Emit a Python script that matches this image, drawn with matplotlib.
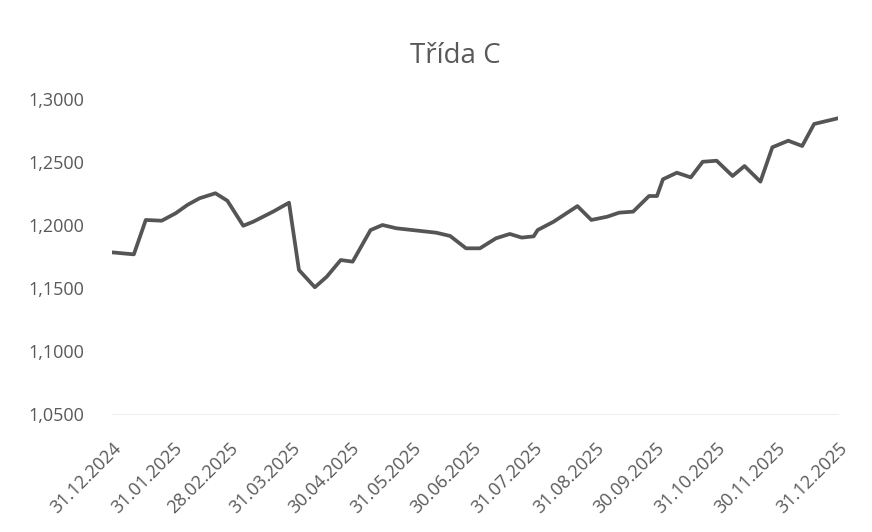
import pandas as pd
import matplotlib
matplotlib.use("Agg")
from matplotlib import pyplot as plt
import matplotlib.dates as mdates
from matplotlib.ticker import FuncFormatter

# Values (date, value)
dates = ["2024-12-31", "2025-01-11", "2025-01-17", "2025-01-25", "2025-02-01",
         "2025-02-07", "2025-02-13", "2025-02-21", "2025-02-27", "2025-03-07",
         "2025-03-12", "2025-03-22", "2025-03-30", "2025-04-04", "2025-04-12",
         "2025-04-18", "2025-04-25", "2025-05-01", "2025-05-10", "2025-05-16",
         "2025-05-23", "2025-05-31", "2025-06-12", "2025-06-19", "2025-06-27",
         "2025-07-04", "2025-07-12", "2025-07-19", "2025-07-25", "2025-07-31",
         "2025-08-02", "2025-08-10", "2025-08-22", "2025-08-29", "2025-09-06",
         "2025-09-12", "2025-09-19", "2025-09-27", "2025-10-01", "2025-10-04",
         "2025-10-11", "2025-10-18", "2025-10-24", "2025-10-31", "2025-11-08",
         "2025-11-14", "2025-11-22", "2025-11-28", "2025-12-06", "2025-12-13",
         "2025-12-19", "2025-12-31"]
values = [1.1783, 1.1767, 1.2040, 1.2034, 1.2093,
          1.2160, 1.2212, 1.2252, 1.2193, 1.1994,
          1.2026, 1.2106, 1.2177, 1.1643, 1.1506,
          1.1590, 1.1722, 1.1709, 1.1960, 1.2000,
          1.1974, 1.1960, 1.1939, 1.1913, 1.1815,
          1.1815, 1.1894, 1.1929, 1.1900, 1.1910,
          1.1960, 1.2026, 1.2150, 1.2040, 1.2066,
          1.2098, 1.2106, 1.2230, 1.2230, 1.2363,
          1.2415, 1.2378, 1.2502, 1.2510, 1.2389,
          1.2468, 1.2344, 1.2617, 1.2669, 1.2627,
          1.2802, 1.2847]

tick_dates = ["2024-12-31", "2025-01-31", "2025-02-28", "2025-03-31", "2025-04-30",
              "2025-05-31", "2025-06-30", "2025-07-31", "2025-08-31", "2025-09-30",
              "2025-10-31", "2025-11-30", "2025-12-31"]
y_ticks = [1.05, 1.10, 1.15, 1.20, 1.25, 1.30]

x = pd.to_datetime(dates)
text_color = "#595959"
plt.rcParams["font.family"] = ["Open Sans", "DejaVu Sans"]

fig = plt.figure(figsize=(8.72, 5.32), dpi=100)
ax = fig.add_axes([0.1284, 0.2218, 0.8326, 0.5921])
ax.plot(x, values, color="#555555", lw=2.7, solid_joinstyle="round")

ax.set_xlim(pd.Timestamp("2024-12-31"), pd.Timestamp("2025-12-31"))
ax.set_ylim(1.05, 1.30)
ax.set_yticks(y_ticks)
ax.yaxis.set_major_formatter(FuncFormatter(lambda v, p: f"{v:.4f}".replace(".", ",")))
ax.set_xticks(pd.to_datetime(tick_dates))
ax.xaxis.set_major_formatter(mdates.DateFormatter("%d.%m.%Y"))

for s in ["top", "right", "left"]:
    ax.spines[s].set_visible(False)
ax.spines["bottom"].set_color("#efefef")
ax.tick_params(axis="both", length=0, colors=text_color, labelsize=13)
ax.tick_params(axis="y", pad=20)
ax.tick_params(axis="x", pad=18)
plt.setp(ax.get_xticklabels(), rotation=45, ha="right", va="top", rotation_mode="anchor")

fig.text(0.522, 0.894, "Třída C", ha="center", va="center", fontsize=20, color=text_color)

plt.savefig("out.png", dpi=100)
